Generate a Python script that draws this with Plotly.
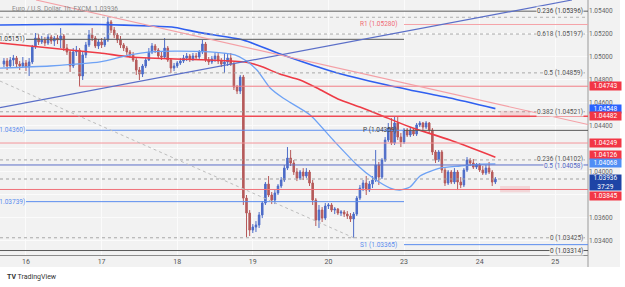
import plotly.graph_objects as go

# ---------------- data ----------------
hours = list(range(-7, 150))  # hourly bar index, 0 = Dec 16 00:00 (weekend removed)

opens = [1.04936, 1.04962, 1.04919, 1.04971, 1.04988, 1.04936, 1.04919, 1.04945, 1.04910, 1.04954,
         1.05084, 1.05162, 1.05128, 1.05145, 1.05119, 1.05171, 1.05136, 1.05162, 1.05145, 1.05180,
         1.05075, 1.05041, 1.04919, 1.05041, 1.05058, 1.04832, 1.05015, 1.05102, 1.05189, 1.05162,
         1.05093, 1.05128, 1.05102, 1.05145, 1.05302, 1.05232, 1.05189, 1.05145, 1.05102, 1.05075,
         1.05041, 1.05015, 1.04971, 1.04884, 1.04849, 1.04919, 1.04971, 1.05041, 1.05093, 1.05058,
         1.05006, 1.04997, 1.05075, 1.04971, 1.04901, 1.04919, 1.04945, 1.04962, 1.04988, 1.05006,
         1.04980, 1.05006, 1.04997, 1.05041, 1.05110, 1.04971, 1.04954, 1.04980, 1.05006, 1.04962,
         1.04936, 1.04954, 1.04988, 1.04936, 1.04736, 1.04701, 1.04823, 1.03770, 1.03640, 1.03492,
         1.03518, 1.03536, 1.03623, 1.03727, 1.03892, 1.03797, 1.03753, 1.03814, 1.03875, 1.03927,
         1.04031, 1.04118, 1.04075, 1.03997, 1.03944, 1.03997, 1.03962, 1.03997, 1.03901, 1.03753,
         1.03579, 1.03666, 1.03596, 1.03701, 1.03710, 1.03666, 1.03675, 1.03640, 1.03649, 1.03631,
         1.03614, 1.03588, 1.03631, 1.03770, 1.03857, 1.03901, 1.03840, 1.03892, 1.03927, 1.04058,
         1.03953, 1.04101, 1.04275, 1.04379, 1.04249, 1.04423, 1.04301, 1.04258, 1.04362, 1.04319,
         1.04362, 1.04327, 1.04406, 1.04423, 1.04388, 1.04423, 1.04362, 1.04171, 1.04101, 1.04171,
         1.04014, 1.03901, 1.03997, 1.03910, 1.03997, 1.03910, 1.03884, 1.04014, 1.04101, 1.04075,
         1.04040, 1.04058, 1.04014, 1.03988, 1.04031, 1.03997, 1.03910]

closes = [1.04962, 1.04919, 1.04971, 1.04988, 1.04936, 1.04919, 1.04945, 1.04910, 1.04954, 1.05084,
          1.05162, 1.05128, 1.05145, 1.05119, 1.05171, 1.05136, 1.05162, 1.05145, 1.05180, 1.05075,
          1.05041, 1.04919, 1.05041, 1.05058, 1.04832, 1.05015, 1.05102, 1.05189, 1.05162, 1.05093,
          1.05128, 1.05102, 1.05145, 1.05302, 1.05232, 1.05189, 1.05145, 1.05102, 1.05075, 1.05041,
          1.05015, 1.04971, 1.04884, 1.04849, 1.04919, 1.04971, 1.05041, 1.05093, 1.05058, 1.05006,
          1.04997, 1.05075, 1.04971, 1.04901, 1.04919, 1.04945, 1.04962, 1.04988, 1.05006, 1.04980,
          1.05006, 1.04997, 1.05041, 1.05110, 1.04971, 1.04954, 1.04980, 1.05006, 1.04962, 1.04936,
          1.04954, 1.04988, 1.04936, 1.04736, 1.04701, 1.04823, 1.03770, 1.03640, 1.03492, 1.03518,
          1.03536, 1.03623, 1.03727, 1.03892, 1.03797, 1.03753, 1.03814, 1.03875, 1.03927, 1.04031,
          1.04118, 1.04075, 1.03997, 1.03944, 1.03997, 1.03962, 1.03997, 1.03901, 1.03753, 1.03579,
          1.03666, 1.03596, 1.03701, 1.03710, 1.03666, 1.03675, 1.03640, 1.03649, 1.03631, 1.03614,
          1.03588, 1.03631, 1.03770, 1.03857, 1.03901, 1.03840, 1.03892, 1.03927, 1.04058, 1.03953,
          1.04101, 1.04275, 1.04379, 1.04249, 1.04423, 1.04301, 1.04258, 1.04362, 1.04319, 1.04362,
          1.04327, 1.04406, 1.04423, 1.04388, 1.04423, 1.04362, 1.04171, 1.04101, 1.04171, 1.04014,
          1.03901, 1.03997, 1.03910, 1.03997, 1.03910, 1.03884, 1.04014, 1.04101, 1.04075, 1.04040,
          1.04058, 1.04014, 1.03988, 1.04031, 1.03997, 1.03910, 1.03936]

highs = [1.04988, 1.04988, 1.04997, 1.05015, 1.05006, 1.04962, 1.04997, 1.04971, 1.04988, 1.05102,
         1.05206, 1.05197, 1.05180, 1.05171, 1.05197, 1.05189, 1.05180, 1.05189, 1.05249, 1.05197,
         1.05110, 1.05058, 1.05075, 1.05093, 1.05075, 1.05041, 1.05128, 1.05232, 1.05249, 1.05180,
         1.05154, 1.05162, 1.05171, 1.05345, 1.05319, 1.05258, 1.05206, 1.05180, 1.05119, 1.05093,
         1.05058, 1.05041, 1.04997, 1.04910, 1.04936, 1.04988, 1.05075, 1.05119, 1.05110, 1.05075,
         1.05041, 1.05162, 1.05093, 1.04988, 1.04945, 1.04962, 1.04988, 1.05015, 1.05032, 1.05023,
         1.05032, 1.05032, 1.05058, 1.05145, 1.05128, 1.04997, 1.05006, 1.05032, 1.05032, 1.04988,
         1.05032, 1.05032, 1.05032, 1.04954, 1.04754, 1.04841, 1.04841, 1.03797, 1.03666, 1.03544,
         1.03570, 1.03649, 1.03744, 1.03910, 1.03962, 1.03823, 1.03840, 1.03892, 1.03953, 1.04058,
         1.04214, 1.04188, 1.04101, 1.04031, 1.04014, 1.04031, 1.04031, 1.04014, 1.03927, 1.03770,
         1.03710, 1.03692, 1.03727, 1.03727, 1.03727, 1.03692, 1.03683, 1.03666, 1.03666, 1.03657,
         1.03640, 1.03649, 1.03788, 1.03884, 1.03927, 1.03962, 1.03918, 1.03962, 1.04188, 1.04084,
         1.04118, 1.04301, 1.04423, 1.04466, 1.04475, 1.04475, 1.04336, 1.04379, 1.04379, 1.04388,
         1.04379, 1.04423, 1.04440, 1.04432, 1.04440, 1.04432, 1.04379, 1.04188, 1.04188, 1.04188,
         1.04031, 1.04014, 1.04014, 1.04031, 1.04014, 1.03953, 1.04031, 1.04127, 1.04118, 1.04110,
         1.04075, 1.04075, 1.04049, 1.04058, 1.04084, 1.04014, 1.03953]

lows = [1.04910, 1.04884, 1.04901, 1.04919, 1.04910, 1.04884, 1.04901, 1.04875, 1.04832, 1.04936,
        1.05067, 1.05102, 1.05110, 1.05093, 1.05102, 1.05110, 1.05093, 1.05110, 1.05075, 1.05049,
        1.05015, 1.04867, 1.04901, 1.05006, 1.04745, 1.04797, 1.04988, 1.05084, 1.05136, 1.05075,
        1.05067, 1.05075, 1.05084, 1.05128, 1.05206, 1.05162, 1.05119, 1.05075, 1.05049, 1.05015,
        1.04988, 1.04954, 1.04841, 1.04797, 1.04823, 1.04901, 1.04962, 1.05023, 1.05032, 1.04988,
        1.04971, 1.04980, 1.04954, 1.04858, 1.04875, 1.04901, 1.04928, 1.04945, 1.04962, 1.04954,
        1.04962, 1.04971, 1.04980, 1.05023, 1.04954, 1.04928, 1.04936, 1.04954, 1.04936, 1.04910,
        1.04858, 1.04919, 1.04919, 1.04710, 1.04675, 1.04675, 1.03710, 1.03431, 1.03440, 1.03466,
        1.03475, 1.03510, 1.03596, 1.03710, 1.03779, 1.03718, 1.03718, 1.03797, 1.03857, 1.03910,
        1.04014, 1.04049, 1.03971, 1.03918, 1.03927, 1.03927, 1.03944, 1.03875, 1.03710, 1.03527,
        1.03510, 1.03562, 1.03579, 1.03675, 1.03649, 1.03631, 1.03623, 1.03614, 1.03605, 1.03588,
        1.03562, 1.03422, 1.03614, 1.03753, 1.03831, 1.03797, 1.03823, 1.03857, 1.03910, 1.03884,
        1.03936, 1.04084, 1.04258, 1.04232, 1.04232, 1.04275, 1.04214, 1.04240, 1.04301, 1.04301,
        1.04310, 1.04310, 1.04388, 1.04362, 1.04371, 1.04336, 1.04145, 1.04075, 1.04084, 1.03988,
        1.03875, 1.03884, 1.03892, 1.03892, 1.03840, 1.03857, 1.03866, 1.03997, 1.04049, 1.04023,
        1.04023, 1.03997, 1.03971, 1.03971, 1.03979, 1.03875, 1.03892]

day_ticks = [0, 24, 48, 72, 96, 120, 144, 168]
day_labels = ["16", "17", "18", "19", "20", "23", "24", "25"]

price_ticks = [1.034, 1.036, 1.038, 1.040, 1.042, 1.044, 1.046, 1.048, 1.050, 1.052, 1.054]
price_tick_labels = ["1.03400", "1.03600", "", "1.04000", "", "1.04400", "1.04600", "1.04800",
                     "1.05000", "1.05200", "1.05400"]

# moving averages (sampled)
ma_slow_h = [-8.25, 7.6, 23.5, 39.4, 47.3, 55.2, 68.9, 81.6, 97.5, 114.6, 121.9, 134.6, 149]
ma_slow_v = [1.05276, 1.05280, 1.05280, 1.05267, 1.05254, 1.05209, 1.05145, 1.05015, 1.04869,
             1.04753, 1.04710, 1.04640, 1.04548]
ma_mid_h = [-8.25, 7.6, 23.5, 33.0, 47.3, 58.4, 69.5, 74.3, 80.6, 87.0, 92.4, 99.0, 106.0, 112.4,
            121.9, 134.6, 149]
ma_mid_v = [1.05119, 1.05075, 1.05032, 1.04997, 1.04980, 1.04971, 1.04954, 1.04919, 1.04849,
            1.04797, 1.04727, 1.04632, 1.04562, 1.04493, 1.04388, 1.04275, 1.04126]
ma_fast_h = [-8.25, 7.6, 23.5, 33.0, 39.4, 47.3, 58.4, 66.3, 69.5, 73.3, 77.5, 81.6, 90.2, 97.5,
             105.1, 110.2, 115.6, 118.7, 121.9, 125.1, 131.4, 137.8, 144.1, 149]
ma_fast_v = [1.04901, 1.04919, 1.04954, 1.05015, 1.05041, 1.05049, 1.05041, 1.05015, 1.04971,
             1.04884, 1.04727, 1.04640, 1.04493, 1.04275, 1.04058, 1.03944, 1.03857, 1.03840,
             1.03866, 1.03962, 1.04031, 1.04049, 1.04066, 1.04068]

# drawings
fib_dotted_prices = [1.05197, 1.04859, 1.04521, 1.04102, 1.03425]
fib_dotted_labels = ["0.618 (1.05197)", "0.5 (1.04859)", "0.382 (1.04521)", "0.236 (1.04102)", "0 (1.03425)"]
fib_solid_prices = [1.05396, 1.03314]
fib_solid_labels = ["0.236 (1.05396)", "0 (1.03314)"]
fib_blue_price = 1.04058
fib_blue_label = "0.5 (1.04058)"
extra_dotted_price = 1.05343
last_price = 1.03936
countdown = "37:29"

pivot_new_prices = [1.05280, 1.04359, 1.03365]
pivot_new_labels = ["R1 (1.05280)", "P (1.04359)", "S1 (1.03365)"]
pivot_old_prices = [1.05151, 1.04360, 1.03739]
pivot_old_labels = ["P (1.05151)", "S1 (1.04360)", "S2 (1.03739)"]
week1_start, week2_start = 0, 120

red_levels = [1.04743, 1.04482, 1.04249, 1.03845]
red_level_starts = [16.8, -8.25, -8.25, -8.25]

trend_up_h, trend_up_p = [-8.25, 173.3], [1.04557, 1.05493]
trend_dn_h, trend_dn_p = [3.2, 178.4], [1.05493, 1.04410]
fib_trend_h, fib_trend_p = [-8.25, 104.4], [1.04788, 1.03420]

zone_h = [150.5, 160.0]
zones = [(1.04472, 1.04530), (1.03820, 1.03875)]

tags = [(1.04743, "#f23645", 0), (1.04548, "#2962ff", 0), (1.04482, "#f23645", 0),
        (1.04249, "#f23645", 0), (1.04126, "#f23645", 2), (1.04068, "#4f8ef5", 1),
        (1.03845, "#f23645", -6.5)]

# ---------------- styling ----------------
X0, X1 = -8.25, 178.4
Y0, Y1 = 1.03275, 1.05493
BG = "#f2f2f2"
FONT = "Roboto"
UP, DN = "#4d6cc8", "#b65a5a"

fig = go.Figure()
fig.add_trace(go.Candlestick(
    x=hours, open=opens, high=highs, low=lows, close=closes,
    increasing=dict(line=dict(color=UP, width=1), fillcolor=UP),
    decreasing=dict(line=dict(color=DN, width=1), fillcolor=DN),
    whiskerwidth=0, hoverinfo="skip", showlegend=False))

for h, v, col, w in [(ma_slow_h, ma_slow_v, "#2f5ff0", 1.6),
                     (ma_mid_h, ma_mid_v, "#ee3b46", 1.6),
                     (ma_fast_h, ma_fast_v, "#6ea2f5", 1.3)]:
    fig.add_trace(go.Scatter(x=h, y=v, mode="lines", line=dict(color=col, width=w, shape="spline", smoothing=0.6),
                             hoverinfo="skip", showlegend=False))

shapes = []
# container background
shapes.append(dict(type="rect", xref="paper", yref="paper", x0=0, x1=620 / 588, y0=1 - 267 / 255, y1=1,
                   fillcolor=BG, line=dict(width=0), layer="below"))
shapes.append(dict(type="line", xref="paper", yref="paper", x0=1, x1=1, y0=1 - 267 / 255, y1=1,
                   line=dict(color="#9a9a9a", width=1)))


def hline(p, c, w=1, dash="solid", x0=X0, x1=X1):
    shapes.append(dict(type="line", xref="x", yref="y", x0=x0, x1=x1, y0=p, y1=p,
                       line=dict(color=c, width=w, dash=dash)))


hline(extra_dotted_price, "#b0b0b0", 1, "dot")
for p in fib_dotted_prices:
    hline(p, "#a8a8a8", 1, "dot")
for p in fib_solid_prices:
    hline(p, "#5a5a5a", 1)
hline(fib_blue_price, "#5b6fc8", 1)
hline(last_price, "#a0a0a0", 1, "dot")
red_cols = ["#f27d85", "#ef4a54", "#f4959a", "#f0737b"]
red_w = [1, 1.5, 1, 1]
for p, s, c, w in zip(red_levels, red_level_starts, red_cols, red_w):
    hline(p, c, w, x0=s)
old_cols = ["#5a5a5a", "#5b8def", "#5b8def"]
for p, c in zip(pivot_old_prices, old_cols):
    hline(p, c, 1, x0=week1_start, x1=week2_start)
new_cols = ["#f5a3a8", "#5a5a5a", "#5b8def"]
for p, c in zip(pivot_new_prices, new_cols):
    hline(p, c, 1, x0=week2_start)

shapes.append(dict(type="line", xref="x", yref="y", x0=trend_up_h[0], x1=trend_up_h[1],
                   y0=trend_up_p[0], y1=trend_up_p[1], line=dict(color="#5b6fc8", width=1.2)))
shapes.append(dict(type="line", xref="x", yref="y", x0=trend_dn_h[0], x1=trend_dn_h[1],
                   y0=trend_dn_p[0], y1=trend_dn_p[1], line=dict(color="#f4a0a6", width=1.1)))
shapes.append(dict(type="line", xref="x", yref="y", x0=fib_trend_h[0], x1=fib_trend_h[1],
                   y0=fib_trend_p[0], y1=fib_trend_p[1], line=dict(color="#bdbdbd", width=1, dash="dot")))
for lo, hi in zones:
    shapes.append(dict(type="rect", xref="x", yref="y", x0=zone_h[0], x1=zone_h[1], y0=lo, y1=hi,
                       fillcolor="rgba(242,54,69,0.15)", line=dict(width=0)))

ann = []


def fib_label(p, t, col="#555", ys=0):
    ann.append(dict(xref="paper", yref="y", x=0.994, y=p, xanchor="right", yanchor="middle", text=t, yshift=ys,
                    showarrow=False, font=dict(family=FONT, size=6.5, color=col), bgcolor=BG, borderpad=0))


for p, t in zip(fib_dotted_prices, fib_dotted_labels):
    fib_label(p, t, ys=(1 if p == 1.04102 else 0))
for p, t in zip(fib_solid_prices, fib_solid_labels):
    fib_label(p, t, "#444")
fib_label(fib_blue_price, fib_blue_label, "#4f63c4", ys=-1)

for p, t, c in zip(pivot_new_prices, pivot_new_labels, ["#f06a72", "#444", "#5b8def"]):
    ann.append(dict(xref="x", yref="y", x=week2_start, y=p, xanchor="right", yanchor="middle", xshift=-5,
                    text=t, showarrow=False, font=dict(family=FONT, size=6.5, color=c)))
for p, t, c in zip(pivot_old_prices, pivot_old_labels, ["#444", "#5b8def", "#5b8def"]):
    ann.append(dict(xref="x", yref="y", x=week1_start, y=p, xanchor="right", yanchor="middle", xshift=1,
                    text=t, showarrow=False, font=dict(family=FONT, size=6.5, color=c)))

for p, c, ys in tags:
    ann.append(dict(xref="paper", yref="y", x=1, y=p, xanchor="left", yanchor="middle", xshift=1, yshift=ys,
                    text=f"{p:.5f}", showarrow=False, bgcolor=c, width=31, height=8, borderpad=0,
                    font=dict(family=FONT, size=6.5, color="white")))
ann.append(dict(xref="paper", yref="y", x=1, y=last_price, xanchor="left", yanchor="middle", xshift=1, yshift=-3.5,
                text=f"{last_price:.5f}<br>{countdown}", showarrow=False, bgcolor="#1e44a6", width=31, height=15,
                borderpad=0, font=dict(family=FONT, size=6.5, color="white")))

ann.append(dict(xref="paper", yref="paper", x=10 / 588, y=1 - 9 / 255, xanchor="left", yanchor="middle",
                text="Euro / U.S. Dollar, 1h, FXCM  1.03936", showarrow=False,
                font=dict(family=FONT, size=6.5, color="#8a8a8a")))
ann.append(dict(xref="paper", yref="paper", x=5 / 588, y=1 - 277 / 255, xanchor="left", yanchor="middle",
                text="<b>TV</b> TradingView", showarrow=False,
                font=dict(family=FONT, size=7, color="#333")))

fig.update_layout(
    width=625, height=287,
    margin=dict(l=0, r=37, t=0, b=32, autoexpand=False),
    paper_bgcolor="white", plot_bgcolor=BG,
    showlegend=False, shapes=shapes, annotations=ann,
    font=dict(family=FONT),
    xaxis=dict(range=[X0, X1], tickvals=day_ticks, ticktext=day_labels, showgrid=True,
               gridcolor="#fbfbfb", gridwidth=1, zeroline=False, showline=True, linecolor="#8c8c8c",
               linewidth=1, ticks="", tickfont=dict(family=FONT, size=7, color="#555"),
               rangeslider=dict(visible=False), fixedrange=True),
    yaxis=dict(range=[Y0, Y1], side="right", tickvals=price_ticks, ticktext=price_tick_labels,
               showgrid=True, gridcolor="#fbfbfb", gridwidth=1, zeroline=False, ticks="",
               showline=False, tickfont=dict(family=FONT, size=6.5, color="#666"), fixedrange=True),
)

fig.write_html("out.html", config={"displayModeBar": False})
